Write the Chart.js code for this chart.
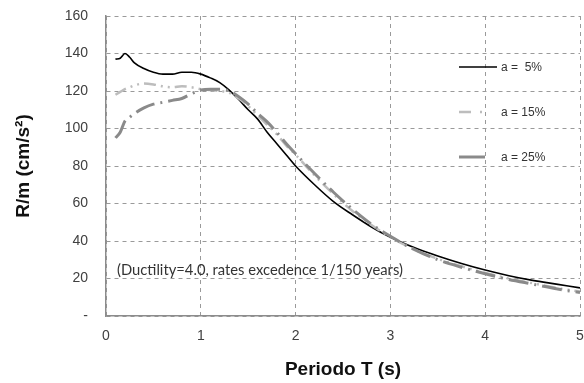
<!DOCTYPE html>
<html>
<head>
<meta charset="utf-8">
<script src="https://cdn.jsdelivr.net/npm/chart.js@4/dist/chart.umd.min.js"></script>
<style>
html,body{margin:0;padding:0;background:#fff;}
#wrap{width:584px;height:383px;}
</style>
</head>
<body>
<div id="wrap"><canvas id="c" width="584" height="383"></canvas></div>
<script>
// Periods T (s)
const periods = [0.1,0.15,0.2,0.25,0.3,0.4,0.5,0.6,0.7,0.8,0.9,1.0,1.1,1.2,1.3,1.4,1.5,1.6,1.7,1.8,1.9,2.0,2.2,2.4,2.6,2.8,3.0,3.25,3.5,3.75,4.0,4.25,4.5,4.75,5.0];
// R/m (cm/s2) for each damping
const damp5  = [137,137.5,140,138,135,132,130,129,129,130,130,129,127,124.5,120.5,115.5,110,105,98,92,86,80,70,61,54,47.5,42,36.5,32,28,24.5,21.5,19,17,15];
const damp15 = [118,119.5,121,122,123,124,123.5,122.5,122,122.5,122,121,120.5,120,119,116,112,107,102,97,91,86,75,65,56,48.5,42,35.5,30.5,26.5,23,20,17.5,15,13];
const damp25 = [95,98,104,106,108,111,113,114,115,116,118.5,120.5,121,121,120,117,113,108,103.5,98,92,86.5,76,66,57,49,42.5,35.5,30,26,22.5,19.5,17,14.5,12.5];
const seriesLabels = ['a =  5%','a = 15%','a = 25%'];
const yTicks = [0,20,40,60,80,100,120,140,160];
const xTicks = [0,1,2,3,4,5];
const note = '(Ductility=4.0, rates excedence 1/150 years)';

const toPts = vals => periods.map((t,i)=>({x:t,y:vals[i]}));

const styles = [
  {color:'#000000', width:1.6, dash:[], legendDash:[]},
  {color:'#bdbdbd', width:2.5, dash:[12,5,2,5,2,5], legendDash:[12,9,2,30]},
  {color:'#8a8a8a', width:3, dash:[20,6,2,6], legendDash:[26,30]}
];

const extras = {
  id:'extras',
  afterDatasetsDraw(chart){
    const ctx = chart.ctx;
    ctx.save();
    const ys = [67,112,157];
    seriesLabels.forEach((lab,i)=>{
      const s = styles[i];
      ctx.strokeStyle = s.color;
      ctx.lineWidth = s.width;
      ctx.setLineDash(s.legendDash);
      ctx.beginPath();
      ctx.moveTo(459, ys[i]);
      ctx.lineTo(497, ys[i]);
      ctx.stroke();
      ctx.setLineDash([]);
      ctx.fillStyle = '#333';
      ctx.font = '12px "Liberation Sans", Arial, sans-serif';
      ctx.textBaseline = 'middle';
      ctx.textAlign = 'left';
      ctx.fillText(lab, 501, ys[i]+1);
    });
    ctx.font = '13px Lato, sans-serif';
    const w = ctx.measureText(note).width;
    const fs = 13*286/w;
    ctx.font = fs.toFixed(2)+'px Lato, sans-serif';
    ctx.fillStyle = '#333';
    ctx.textBaseline = 'middle';
    ctx.textAlign = 'left';
    ctx.fillText(note, 117, 270);
    ctx.restore();
  }
};

new Chart(document.getElementById('c'), {
  type:'line',
  data:{
    datasets: [damp5, damp15, damp25].map((v,i)=>({
      label: seriesLabels[i],
      data: toPts(v),
      borderColor: styles[i].color,
      borderWidth: styles[i].width,
      borderDash: styles[i].dash,
      pointRadius: 0,
      fill: false,
      cubicInterpolationMode: 'monotone'
    })).reverse()
  },
  options:{
    responsive:false,
    animation:false,
    events:[],
    layout:{padding:{top:16,right:4,bottom:0,left:0}},
    plugins:{legend:{display:false}, tooltip:{enabled:false}},
    scales:{
      x:{
        type:'linear', min:0, max:5,
        afterBuildTicks: s => { s.ticks = xTicks.map(v=>({value:v})); },
        afterFit: s => { s.height = 67; s.paddingLeft = 0; s.paddingRight = 0; },
        grid:{color:'#9a9a9a', drawTicks:false},
        border:{display:true, color:'#8c8c8c', width:1.5, dash:[4,4]},
        ticks:{padding:12, color:'#404040', font:{family:'"Liberation Sans", Arial, sans-serif', size:14}},
        title:{display:true, text:'Periodo T (s)', color:'#111', padding:{top:0,bottom:2}, font:{family:'"Liberation Sans", Arial, sans-serif', size:19, weight:'bold'}}
      },
      y:{
        min:0, max:160,
        afterBuildTicks: s => { s.ticks = yTicks.map(v=>({value:v})); },
        afterFit: s => { s.width = 106; s.paddingTop = 0; s.paddingBottom = 0; },
        grid:{color:'#9a9a9a', drawTicks:false},
        border:{display:true, color:'#8c8c8c', width:1.5, dash:[4,4]},
        ticks:{padding:18, color:'#404040', font:{family:'"Liberation Sans", Arial, sans-serif', size:14},
          callback: v => v === 0 ? '-' : String(v)},
        title:{display:true, text:'R/m (cm/s²)', color:'#111', padding:{top:12,bottom:0}, font:{family:'"Liberation Sans", Arial, sans-serif', size:19, weight:'bold'}}
      }
    }
  },
  plugins:[extras]
});
</script>
</body>
</html>
